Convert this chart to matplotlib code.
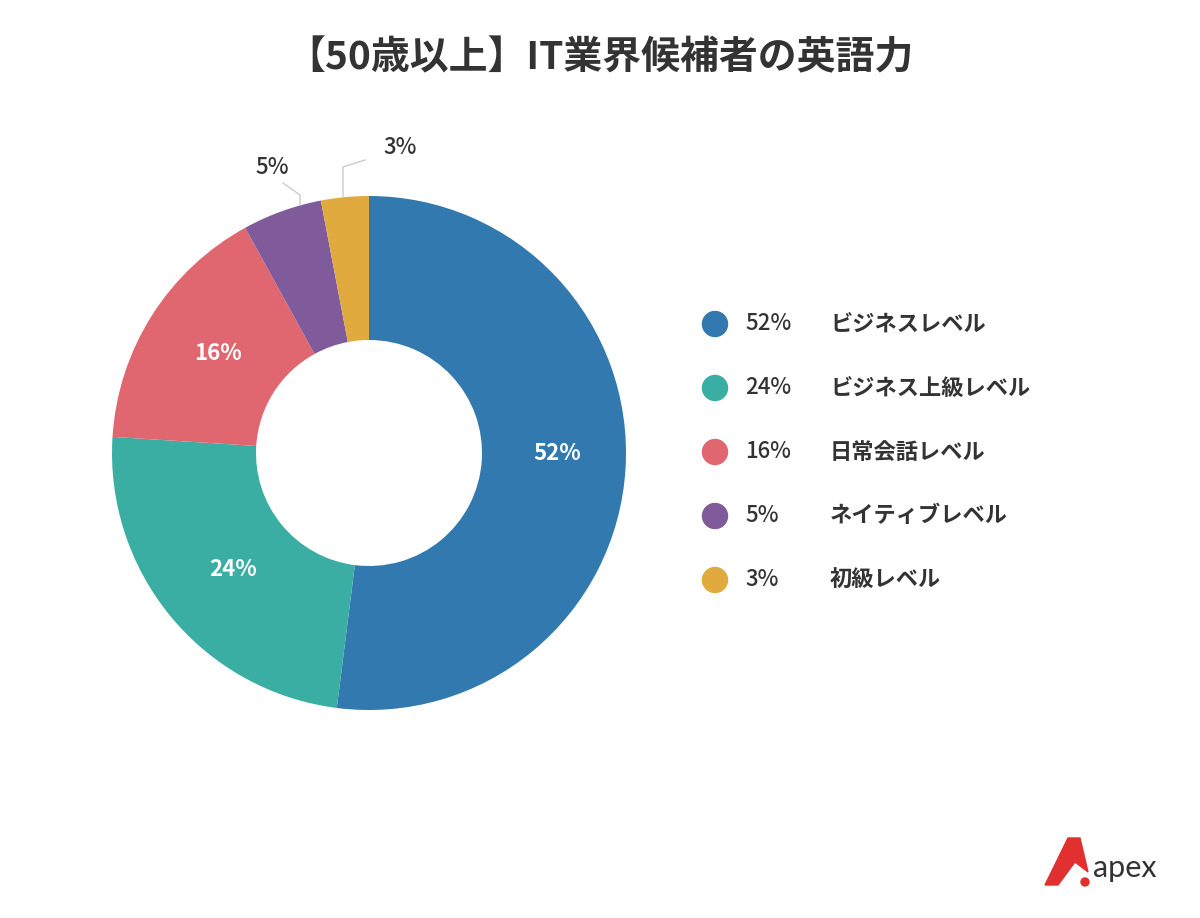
import matplotlib
matplotlib.use("Agg")
import matplotlib.pyplot as plt
from matplotlib.patches import Polygon, Circle

plt.rcParams["font.family"] = "Noto Sans CJK JP"

categories = ["ビジネスレベル", "ビジネス上級レベル", "日常会話レベル", "ネイティブレベル", "初級レベル"]
values = [52, 24, 16, 5, 3]
colors = ["#3179ae", "#3aaea3", "#e06670", "#7f5b9c", "#e0aa3e"]

fig = plt.figure(figsize=(12, 9.18), dpi=100)
ax = fig.add_axes([0, 0, 1, 1])
H = 918
cx, cy, R = 369, H - 453, 257
ax.pie(values, colors=colors, startangle=90, counterclock=False, center=(cx, cy),
       radius=R, wedgeprops=dict(width=R - 113, edgecolor="none"))
ax.set_xlim(0, 1200)
ax.set_ylim(0, H)
ax.set_aspect("equal")
ax.axis("off")

txt = "#333333"
fig.text(0.5, 1 - 58 / H, "【50歳以上】IT業界候補者の英語力", ha="center", va="center",
         fontsize=28, fontweight="bold", color=txt)

for (x, y), v in zip([(557, 453), (233, 570), (218, 354)], values[:3]):
    ax.text(x, H - y, f"{v}%", ha="center", va="center", fontsize=16, fontweight="bold", color="white")
ax.plot([283, 300, 300], [H - 183, H - 195, H - 205], color="#cccccc", lw=1)
ax.text(272, H - 167, f"{values[3]}%", ha="center", va="center", fontsize=16, fontweight="medium", color=txt)
ax.plot([343, 343, 365], [H - 197, H - 167, H - 160], color="#cccccc", lw=1)
ax.text(400, H - 148, f"{values[4]}%", ha="center", va="center", fontsize=16, fontweight="medium", color=txt)

for i, (c, v, col) in enumerate(zip(categories, values, colors)):
    y = H - (324 + 64 * i)
    ax.add_patch(Circle((715, y), 12.5, color=col))
    ax.text(745, y, f"{v}%", ha="left", va="center", fontsize=16, fontweight="medium", color=txt)
    ax.text(830, y, c, ha="left", va="center", fontsize=16, fontweight="bold", color=txt)

ax.add_patch(Polygon([[1045, H - 885], [1068, H - 838], [1080, H - 838], [1088, H - 872], [1075, H - 862], [1058, H - 885]],
                     closed=True, color="#e03030"))
ax.add_patch(Circle((1085, H - 882), 4, color="#e03030"))
ax.text(1093, H - 868, "apex", ha="left", va="center", fontsize=22, color="#333333",
        fontfamily="Lato")

fig.savefig("out.png", dpi=100)
